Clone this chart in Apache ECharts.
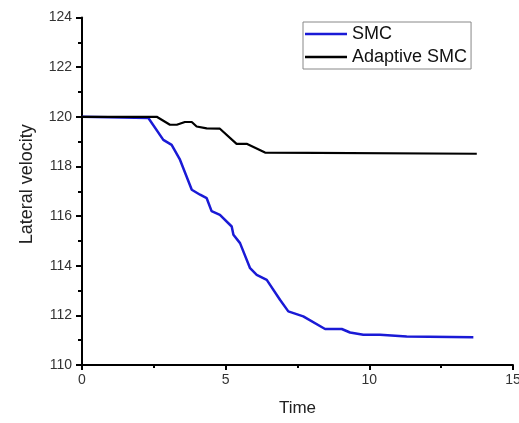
<!DOCTYPE html>
<html>
<head>
<meta charset="utf-8">
<script src="https://cdn.jsdelivr.net/npm/echarts@6/dist/echarts.min.js"></script>
<style>html,body{margin:0;padding:0;background:#fff;}#c{width:519px;height:423px;}</style>
</head>
<body>
<div id="c"></div>
<script>
var smcTime = [0, 2.31, 2.83, 3.12, 3.41, 3.82, 4.11, 4.34, 4.51, 4.8, 5.21, 5.27, 5.5, 5.85, 6.08, 6.43, 6.89, 7.18, 7.7, 8.46, 9.04, 9.33, 9.79, 10.37, 11.3, 13.62];
var smcVal = [120, 119.95, 119.07, 118.87, 118.27, 117.06, 116.86, 116.72, 116.2, 116.05, 115.58, 115.25, 114.91, 113.9, 113.63, 113.43, 112.63, 112.16, 111.96, 111.45, 111.45, 111.31, 111.22, 111.22, 111.15, 111.12];
var adaTime = [0, 2.6, 3.06, 3.3, 3.58, 3.82, 3.99, 4.34, 4.8, 5.38, 5.73, 6.37, 13.74];
var adaVal = [120, 120, 119.68, 119.68, 119.79, 119.79, 119.61, 119.53, 119.52, 118.91, 118.91, 118.56, 118.51];
var seriesNames = ['SMC', 'Adaptive SMC'];
var xTicks = [0, 5, 10, 15];
var yTicks = [110, 112, 114, 116, 118, 120, 122, 124];

function pairs(xs, ys) { return xs.map(function (x, i) { return [x, ys[i]]; }); }
var font = 'Liberation Sans, Arial, sans-serif';
var chart = echarts.init(document.getElementById('c'), null, {renderer: 'canvas'});
chart.setOption({
  animation: false,
  backgroundColor: '#fff',
  grid: {left: 82, right: 6, top: 17.5, bottom: 58, containLabel: false, outerBoundsMode: 'none'},
  legend: {
    orient: 'vertical', left: 303, top: 22,
    data: seriesNames,
    icon: 'rect', itemWidth: 42, itemHeight: 2.5, itemGap: 5,
    padding: [3, 4, 3, 2],
    borderColor: '#888', borderWidth: 1,
    textStyle: {fontFamily: font, fontSize: 18, color: '#111', lineHeight: 18}
  },
  xAxis: {
    type: 'value', min: xTicks[0], max: xTicks[xTicks.length - 1], interval: 5,
    name: 'Time', nameLocation: 'middle', nameGap: 35,
    nameTextStyle: {fontFamily: font, fontSize: 17, color: '#222'},
    axisLine: {show: true, onZero: false, lineStyle: {color: '#000', width: 2}},
    axisTick: {show: true, inside: false, length: 5, lineStyle: {color: '#000', width: 2}},
    minorTick: {show: true, splitNumber: 2, length: 3, lineStyle: {color: '#000', width: 2}},
    axisLabel: {fontFamily: font, fontSize: 14, color: '#333', margin: 8},
    splitLine: {show: false}
  },
  yAxis: {
    type: 'value', min: yTicks[0], max: yTicks[yTicks.length - 1], interval: 2,
    name: 'Lateral velocity', nameLocation: 'middle', nameGap: 46, nameRotate: 90,
    nameTextStyle: {fontFamily: font, fontSize: 18, color: '#222', padding: [0, 0, 0, 14]},
    axisLine: {show: true, onZero: false, lineStyle: {color: '#000', width: 2}},
    axisTick: {show: true, inside: false, length: 6, lineStyle: {color: '#000', width: 2}},
    minorTick: {show: true, splitNumber: 2, length: 4, lineStyle: {color: '#000', width: 2}},
    axisLabel: {fontFamily: font, fontSize: 14, color: '#333', margin: 10},
    splitLine: {show: false}
  },
  series: [
    {name: seriesNames[0], type: 'line', data: pairs(smcTime, smcVal), showSymbol: false, symbol: 'none',
     lineStyle: {color: '#1a1ad6', width: 2.5}, itemStyle: {color: '#1a1ad6'}, z: 2},
    {name: seriesNames[1], type: 'line', data: pairs(adaTime, adaVal), showSymbol: false, symbol: 'none',
     lineStyle: {color: '#000', width: 2.2}, itemStyle: {color: '#000'}, z: 3}
  ]
});
</script>
</body>
</html>
